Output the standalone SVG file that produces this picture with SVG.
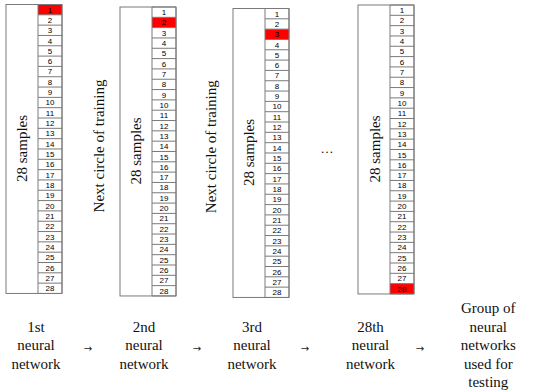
<svg xmlns="http://www.w3.org/2000/svg" width="550" height="392" viewBox="0 0 550 392">
<style>
.outer{fill:#ffffff;stroke:#7a7a7a;stroke-width:1}
.grid{fill:none;stroke:#7a7a7a;stroke-width:1}
.red{fill:#ff0000;stroke:none}
.num{font-family:"Liberation Sans",Arial,sans-serif;font-size:8px;fill:#000;text-anchor:middle}
.lbl{font-family:"Liberation Serif","Times New Roman",serif;font-size:15px;fill:#111;text-anchor:middle}
.arr{font-family:"DejaVu Sans",sans-serif;font-size:10px;fill:#222;text-anchor:middle}
</style>
<defs>
<path id="grid" class="grid" d="M32,0V288.96M32,0H56V288.96H32M32,10.32H56M32,20.64H56M32,30.96H56M32,41.28H56M32,51.6H56M32,61.92H56M32,72.24H56M32,82.56H56M32,92.88H56M32,103.2H56M32,113.52H56M32,123.84H56M32,134.16H56M32,144.48H56M32,154.8H56M32,165.12H56M32,175.44H56M32,185.76H56M32,196.08H56M32,206.4H56M32,216.72H56M32,227.04H56M32,237.36H56M32,247.68H56M32,258H56M32,268.32H56M32,278.64H56"/>
</defs>

<g id="block1" transform="translate(6,4.5)">
<rect class="outer" x="0" y="0" width="56" height="288.96"/>
<rect class="red" x="32" y="0" width="24" height="10.32"/>
<use href="#grid"/>
<text class="lbl" transform="translate(21,144) rotate(-90)">28 samples</text>
<g class="num">
<text x="44" y="8">1</text><text x="44" y="18.3">2</text><text x="44" y="28.6">3</text><text x="44" y="39">4</text><text x="44" y="49.3">5</text><text x="44" y="59.6">6</text><text x="44" y="69.9">7</text><text x="44" y="80.2">8</text><text x="44" y="90.6">9</text><text x="44" y="100.9">10</text><text x="44" y="111.2">11</text><text x="44" y="121.5">12</text><text x="44" y="131.8">13</text><text x="44" y="142.2">14</text><text x="44" y="152.5">15</text><text x="44" y="162.8">16</text><text x="44" y="173.1">17</text><text x="44" y="183.4">18</text><text x="44" y="193.8">19</text><text x="44" y="204.1">20</text><text x="44" y="214.4">21</text><text x="44" y="224.7">22</text><text x="44" y="235">23</text><text x="44" y="245.4">24</text><text x="44" y="255.7">25</text><text x="44" y="266">26</text><text x="44" y="276.3">27</text><text x="44" y="286.6">28</text>
</g>
</g>

<g id="block2" transform="translate(120,7)">
<rect class="outer" x="0" y="0" width="56" height="288.96"/>
<rect class="red" x="32" y="10.32" width="24" height="10.32"/>
<use href="#grid"/>
<text class="lbl" transform="translate(21,144) rotate(-90)">28 samples</text>
<g class="num">
<text x="44" y="8">1</text><text x="44" y="18.3">2</text><text x="44" y="28.6">3</text><text x="44" y="39">4</text><text x="44" y="49.3">5</text><text x="44" y="59.6">6</text><text x="44" y="69.9">7</text><text x="44" y="80.2">8</text><text x="44" y="90.6">9</text><text x="44" y="100.9">10</text><text x="44" y="111.2">11</text><text x="44" y="121.5">12</text><text x="44" y="131.8">13</text><text x="44" y="142.2">14</text><text x="44" y="152.5">15</text><text x="44" y="162.8">16</text><text x="44" y="173.1">17</text><text x="44" y="183.4">18</text><text x="44" y="193.8">19</text><text x="44" y="204.1">20</text><text x="44" y="214.4">21</text><text x="44" y="224.7">22</text><text x="44" y="235">23</text><text x="44" y="245.4">24</text><text x="44" y="255.7">25</text><text x="44" y="266">26</text><text x="44" y="276.3">27</text><text x="44" y="286.6">28</text>
</g>
</g>

<g id="block3" transform="translate(233,8.5)">
<rect class="outer" x="0" y="0" width="56" height="288.96"/>
<rect class="red" x="32" y="20.64" width="24" height="10.32"/>
<use href="#grid"/>
<text class="lbl" transform="translate(21,144) rotate(-90)">28 samples</text>
<g class="num">
<text x="44" y="8">1</text><text x="44" y="18.3">2</text><text x="44" y="28.6">3</text><text x="44" y="39">4</text><text x="44" y="49.3">5</text><text x="44" y="59.6">6</text><text x="44" y="69.9">7</text><text x="44" y="80.2">8</text><text x="44" y="90.6">9</text><text x="44" y="100.9">10</text><text x="44" y="111.2">11</text><text x="44" y="121.5">12</text><text x="44" y="131.8">13</text><text x="44" y="142.2">14</text><text x="44" y="152.5">15</text><text x="44" y="162.8">16</text><text x="44" y="173.1">17</text><text x="44" y="183.4">18</text><text x="44" y="193.8">19</text><text x="44" y="204.1">20</text><text x="44" y="214.4">21</text><text x="44" y="224.7">22</text><text x="44" y="235">23</text><text x="44" y="245.4">24</text><text x="44" y="255.7">25</text><text x="44" y="266">26</text><text x="44" y="276.3">27</text><text x="44" y="286.6">28</text>
</g>
</g>

<g id="block4" transform="translate(358,5)">
<rect class="outer" x="0" y="0" width="56" height="288.96"/>
<rect class="red" x="32" y="278.64" width="24" height="10.32"/>
<use href="#grid"/>
<text class="lbl" transform="translate(22,144) rotate(-90)">28 samples</text>
<g class="num">
<text x="44" y="8">1</text><text x="44" y="18.3">2</text><text x="44" y="28.6">3</text><text x="44" y="39">4</text><text x="44" y="49.3">5</text><text x="44" y="59.6">6</text><text x="44" y="69.9">7</text><text x="44" y="80.2">8</text><text x="44" y="90.6">9</text><text x="44" y="100.9">10</text><text x="44" y="111.2">11</text><text x="44" y="121.5">12</text><text x="44" y="131.8">13</text><text x="44" y="142.2">14</text><text x="44" y="152.5">15</text><text x="44" y="162.8">16</text><text x="44" y="173.1">17</text><text x="44" y="183.4">18</text><text x="44" y="193.8">19</text><text x="44" y="204.1">20</text><text x="44" y="214.4">21</text><text x="44" y="224.7">22</text><text x="44" y="235">23</text><text x="44" y="245.4">24</text><text x="44" y="255.7">25</text><text x="44" y="266">26</text><text x="44" y="276.3">27</text><text x="44" y="286.6">28</text>
</g>
</g>

<g id="next1"><text class="lbl" transform="translate(103.5,146) rotate(-90)">Next circle of training</text></g>
<g id="next2"><text class="lbl" transform="translate(215.5,146.7) rotate(-90)">Next circle of training</text></g>
<g id="ellipsis"><text class="lbl" x="327" y="153" style="font-size:13px">…</text></g>

<g id="label1" class="lbl"><text x="36" y="331.5">1st</text><text x="36" y="350">neural</text><text x="36" y="368.5">network</text></g>
<g id="label2" class="lbl"><text x="144" y="331.5">2nd</text><text x="144" y="350">neural</text><text x="144" y="368.5">network</text></g>
<g id="label3" class="lbl"><text x="252" y="331.5">3rd</text><text x="252" y="350">neural</text><text x="252" y="368.5">network</text></g>
<g id="label4" class="lbl"><text x="370.5" y="331.5">28th</text><text x="370.5" y="350">neural</text><text x="370.5" y="368.5">network</text></g>
<g id="label5" class="lbl"><text x="488.3" y="313">Group of</text><text x="488.3" y="331.5">neural</text><text x="488.3" y="350">networks</text><text x="488.3" y="368.5">used for</text><text x="488.3" y="387">testing</text></g>

<g id="connectors" class="arr">
<text x="88" y="351.5">→</text>
<text x="197" y="351.5">→</text>
<text x="305" y="351.5">→</text>
<text x="420" y="351.5">→</text>
</g>
</svg>
